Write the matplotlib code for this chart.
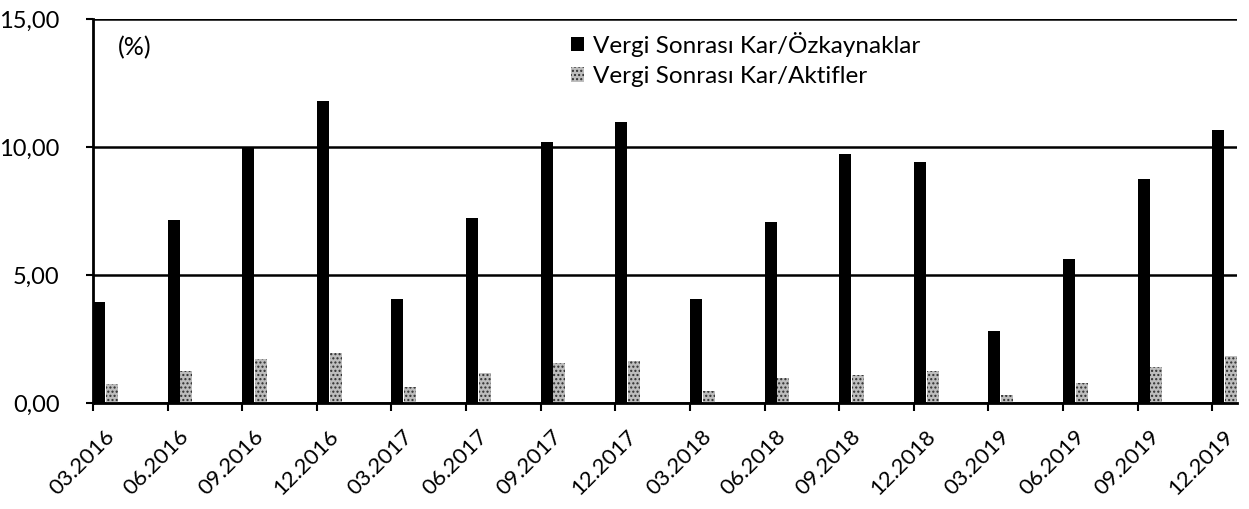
import matplotlib
matplotlib.use("Agg")
import matplotlib.pyplot as plt
import numpy as np
from matplotlib.ticker import FuncFormatter

periods = ["03.2016", "06.2016", "09.2016", "12.2016",
           "03.2017", "06.2017", "09.2017", "12.2017",
           "03.2018", "06.2018", "09.2018", "12.2018",
           "03.2019", "06.2019", "09.2019", "12.2019"]
roe = [3.95, 7.15, 10.0, 11.8, 4.05, 7.24, 10.2, 10.98,
       4.05, 7.08, 9.73, 9.41, 2.8, 5.62, 8.75, 10.66]
roa = [0.74, 1.26, 1.72, 1.94, 0.64, 1.16, 1.55, 1.64,
       0.48, 0.96, 1.09, 1.25, 0.31, 0.79, 1.42, 1.84]
roe_label = "Vergi Sonrası Kar/Özkaynaklar"
roa_label = "Vergi Sonrası Kar/Aktifler"
y_ticks = [0, 5, 10, 15]

plt.rcParams["font.family"] = ["Lato", "DejaVu Sans"]
plt.rcParams["hatch.linewidth"] = 1.0

fig = plt.figure(figsize=(12.49, 5.09), dpi=100)
ax = fig.add_axes([93 / 1249, 1 - 403 / 509, 1144 / 1249, 384 / 509])

x = np.arange(len(periods))
bar_w = 0.16

ax.bar(x, roe, width=bar_w, align="edge", color="black", label=roe_label,
       zorder=3)
ax.bar(x + bar_w + 0.01, roa, width=bar_w, align="edge", color="#bdbdbd",
       edgecolor="#2e2e2e", linewidth=0, hatch="....", label=roa_label,
       zorder=3)

ax.set_xlim(0, 15.33)
ax.set_ylim(0, 15)
ax.set_yticks(y_ticks)
ax.yaxis.set_major_formatter(FuncFormatter(lambda v, p: f"{v:.2f}".replace(".", ",")))
ax.tick_params(axis="y", labelsize=17, length=5, width=1.5, pad=19)

# tick marks at category boundaries, labels under the bars
ax.set_xticks(x, minor=True)
ax.set_xticks(x + 0.15)
ax.set_xticklabels(periods, rotation=45, ha="right", rotation_mode="anchor",
                   fontsize=16)
ax.tick_params(axis="x", which="major", length=0, pad=17)
ax.tick_params(axis="x", which="minor", length=6, width=1.5)

ax.grid(axis="y", color="black", linewidth=1.8, zorder=0)
ax.set_axisbelow(True)
for side in ["top", "right"]:
    ax.spines[side].set_visible(False)
for side in ["left", "bottom"]:
    ax.spines[side].set_linewidth(2)
    ax.spines[side].set_zorder(4)

ax.text(0.022, 0.925, "(%)", transform=ax.transAxes, fontsize=18,
        va="center", ha="left")

ax.legend(loc="upper left", bbox_to_anchor=(0.405, 1.005), frameon=False,
          fontsize=17.5, handlelength=0.55, handleheight=0.55,
          handletextpad=0.35, labelspacing=0.4, borderaxespad=0.2)

fig.savefig("out.png", dpi=100)
